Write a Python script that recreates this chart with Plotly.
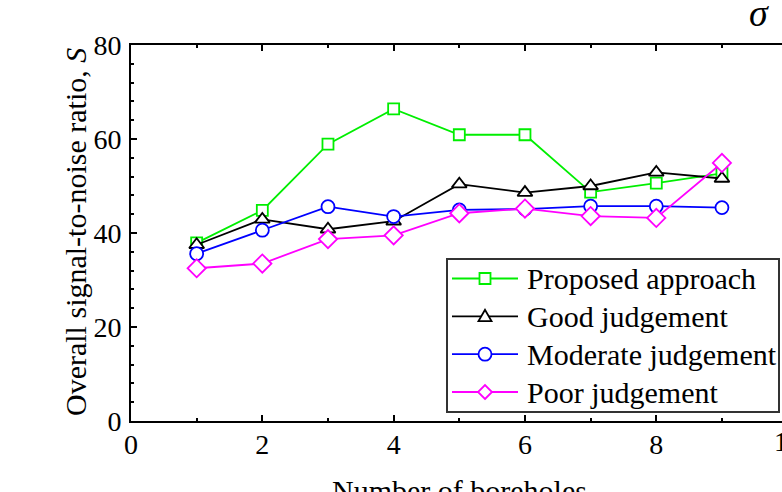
import plotly.graph_objects as go

boreholes = [1, 2, 3, 4, 5, 6, 7, 8, 9]
proposed = [37.9, 44.8, 58.9, 66.4, 60.9, 60.9, 48.7, 50.6, 52.7]
good = [37.5, 42.9, 40.8, 42.5, 50.4, 48.6, 50.0, 52.9, 51.6]
moderate = [35.6, 40.6, 45.6, 43.5, 44.9, 45.1, 45.7, 45.7, 45.4]
poor = [32.5, 33.5, 38.7, 39.5, 44.2, 45.2, 43.6, 43.2, 54.9]

series_names = ["Proposed approach", "Good judgement", "Moderate judgement", "Poor judgement"]
series_values = [proposed, good, moderate, poor]
series_colors = ["#00ee00", "#000000", "#0000ff", "#ff00ff"]
series_symbols = ["square", "triangle-up", "circle", "diamond"]
series_sizes = [11, 13, 13, 14]

FONT = "Liberation Serif, Times New Roman, serif"

W, H = 782, 492
L, T, B, R = 131, 45, 71, 0
PW, PH = W - L - R, H - T - B
x_right = PW / 65.66


def px2paper(px, py):
    return (px - L) / PW, (H - B - py) / PH


fig = go.Figure()
for name, vals, col, sym, sz in zip(series_names, series_values, series_colors, series_symbols, series_sizes):
    fig.add_trace(go.Scatter(
        x=boreholes, y=vals, name=name, mode="lines+markers",
        line=dict(color=col, width=1.8),
        marker=dict(symbol=sym, size=sz, color="white", line=dict(color=col, width=1.8)),
        cliponaxis=False, showlegend=False,
    ))

fig.update_layout(
    width=W, height=H,
    margin=dict(l=L, r=R, t=T, b=B, pad=0),
    paper_bgcolor="white", plot_bgcolor="white",
    font=dict(family=FONT, size=28, color="black"),
    showlegend=False,
    xaxis=dict(
        range=[0, x_right], tickvals=[0, 2, 4, 6, 8], ticktext=["0", "2", "4", "6", "8"],
        showgrid=False, zeroline=False,
        showline=True, linecolor="black", linewidth=2, mirror="allticks",
        ticks="inside", ticklen=6, tickwidth=1.5, tickcolor="black",
        minor=dict(dtick=1, tick0=0, ticks="inside", ticklen=3, tickwidth=1.5, tickcolor="black", showgrid=False),
        tickfont=dict(family=FONT, size=28),
        ticklabelstandoff=-3,
    ),
    yaxis=dict(
        range=[0, 80], tickvals=[0, 20, 40, 60, 80],
        showgrid=False, zeroline=False,
        showline=True, linecolor="black", linewidth=2, mirror=False,
        ticks="inside", ticklen=6, tickwidth=1.5, tickcolor="black",
        minor=dict(dtick=4, tick0=0, ticks="inside", ticklen=3, tickwidth=1.5, tickcolor="black", showgrid=False),
        tickfont=dict(family=FONT, size=28),
        ticklabelstandoff=2,
    ),
)

# x tick label "10" lies just past the right edge of the picture
fig.add_annotation(x=1, y=0, xref="paper", yref="paper", text="10", showarrow=False,
                   xanchor="center", yanchor="top", xshift=131 + 10 * 65.66 - W, yshift=-3,
                   font=dict(family=FONT, size=28))

fig.add_annotation(x=5, y=0, xref="x", yref="paper", text="Number of boreholes", showarrow=False,
                   yanchor="top", yshift=-51, font=dict(family=FONT, size=30))

fig.add_annotation(x=0, y=(H - B - 232) / PH, xref="paper", yref="paper",
                   text="Overall signal-to-noise ratio, <i>S</i>", showarrow=False,
                   textangle=-90, xanchor="center", yanchor="middle", xshift=-(L - 75),
                   font=dict(family=FONT, size=30))

fig.add_annotation(x=1, y=1, xref="paper", yref="paper", text="<i>σ</i>", showarrow=False,
                   xanchor="center", yanchor="middle", xshift=-(W - 759), yshift=T - 13,
                   font=dict(family=FONT, size=38))

# ---- legend (box, line samples, symbols, labels) ----
bx0, by0 = px2paper(447, 412)
bx1, by1 = px2paper(779, 259)
fig.add_shape(type="rect", xref="paper", yref="paper", x0=bx0, y0=by0, x1=bx1, y1=by1,
              line=dict(color="#333333", width=2), fillcolor="white", layer="above")

legend_rows = [278.5, 316.3, 354.2, 392.0]
for name, col, sym, sz, py in zip(series_names, series_colors, series_symbols, series_sizes, legend_rows):
    lx0, ly = px2paper(452, py)
    lx1, _ = px2paper(518, py)
    mx, _ = px2paper(485, py)
    fig.add_shape(type="line", xref="paper", yref="paper", x0=lx0, x1=lx1, y0=ly, y1=ly,
                  line=dict(color=col, width=1.8), layer="above")
    common = dict(xref="paper", yref="paper", xsizemode="pixel", ysizemode="pixel",
                  xanchor=mx, yanchor=ly, line=dict(color=col, width=1.8), fillcolor="white", layer="above")
    h = sz / 2
    if sym == "square":
        fig.add_shape(type="rect", x0=-h, x1=h, y0=-h, y1=h, **common)
    elif sym == "circle":
        fig.add_shape(type="circle", x0=-h, x1=h, y0=-h, y1=h, **common)
    elif sym == "triangle-up":
        fig.add_shape(type="path", path=f"M{-h},{-h * 0.75} L{h},{-h * 0.75} L0,{h} Z", **common)
    else:
        fig.add_shape(type="path", path=f"M0,{-h} L{h},0 L0,{h} L{-h},0 Z", **common)
    tx, ty = px2paper(525, py)
    fig.add_annotation(x=tx, y=ty, xref="paper", yref="paper", text=name, showarrow=False,
                       xanchor="left", yanchor="middle", font=dict(family=FONT, size=30))

fig.write_html("out.html")
